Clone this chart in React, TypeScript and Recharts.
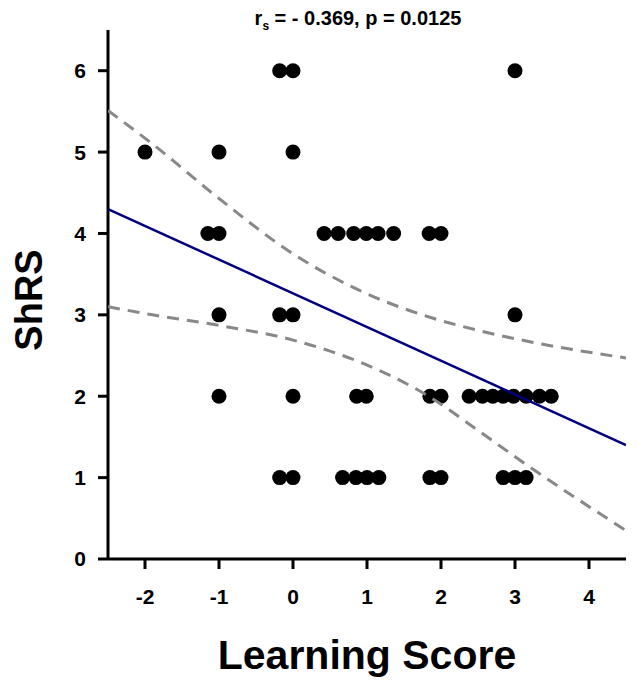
import { ScatterChart, Scatter, XAxis, YAxis } from "recharts";

const xTicks = [-2, -1, 0, 1, 2, 3, 4];
const yTicks = [0, 1, 2, 3, 4, 5, 6];

// one entry per subject: learning score and ShRS
const learningScore = [
  -0.18, 0, 3.0,
  -2, -1, 0,
  -1.15, -1.0, 0.42, 0.61, 0.82, 0.99, 1.15, 1.36, 1.84, 2.0,
  -1.0, -0.18, 0, 3.0,
  -1.0, 0, 0.86, 0.99, 1.85, 2.0, 2.38, 2.56, 2.7, 2.84, 2.98, 3.15, 3.33, 3.49,
  -0.18, 0, 0.67, 0.85, 1.0, 1.16, 1.85, 2.0, 2.84, 3.0, 3.15,
];
const shrsScore = [
  6, 6, 6,
  5, 5, 5,
  4, 4, 4, 4, 4, 4, 4, 4, 4, 4,
  3, 3, 3, 3,
  2, 2, 2, 2, 2, 2, 2, 2, 2, 2, 2, 2, 2, 2,
  1, 1, 1, 1, 1, 1, 1, 1, 1, 1, 1,
];

// linear fit and 95% confidence band
const fitX = [-2.5, 4.5];
const fitY = [4.3, 1.4];
const bandX = [-2.5, -1.9, -1, 0, 0.9, 1.85, 2.5, 3.2, 4.5];
const bandUpper = [5.51, 5.1, 4.43, 3.75, 3.3, 2.97, 2.81, 2.67, 2.47];
const bandLower = [3.1, 3.0, 2.87, 2.69, 2.42, 1.99, 1.58, 1.13, 0.35];

const points = learningScore.map((x, i) => ({ x, y: shrsScore[i] }));
const fit = fitX.map((x, i) => ({ x, y: fitY[i] }));
const upper = bandX.map((x, i) => ({ x, y: bandUpper[i] }));
const lower = bandX.map((x, i) => ({ x, y: bandLower[i] }));

const FONT = "'Liberation Sans', Arial, sans-serif";

const Dot = (props: any) => <circle cx={props.cx} cy={props.cy} r={7.5} fill="#000" />;
const NoDot = () => <g />;

const App = () => {
  const dash = { stroke: "#888888", strokeWidth: 3, strokeDasharray: "12 8" };
  return (
    <div style={{ position: "absolute", left: 0, top: 0, width: 639, height: 684, background: "#fff", fontFamily: FONT }}>
      <ScatterChart width={639} height={684} margin={{ top: 30, right: 13, bottom: 65, left: 48 }}>
        <XAxis
          type="number"
          dataKey="x"
          domain={[-2.5, 4.5]}
          ticks={xTicks}
          interval={0}
          allowDataOverflow
          height={60}
          tickSize={10}
          tickMargin={20}
          axisLine={{ stroke: "#000", strokeWidth: 3 }}
          tickLine={{ stroke: "#000", strokeWidth: 3 }}
          tick={{ fill: "#000", fontSize: 21, fontWeight: "bold", fontFamily: FONT }}
        />
        <YAxis
          type="number"
          dataKey="y"
          domain={[0, 6.5]}
          ticks={yTicks}
          interval={0}
          allowDataOverflow
          width={60}
          tickSize={10}
          tickMargin={12}
          axisLine={{ stroke: "#000", strokeWidth: 3 }}
          tickLine={{ stroke: "#000", strokeWidth: 3 }}
          tick={{ fill: "#000", fontSize: 21, fontWeight: "bold", fontFamily: FONT }}
        />
        <Scatter data={points} shape={Dot} isAnimationActive={false} />
        <Scatter data={upper} shape={NoDot} line={dash} lineJointType="monotoneX" isAnimationActive={false} />
        <Scatter data={lower} shape={NoDot} line={dash} lineJointType="monotoneX" isAnimationActive={false} />
        <Scatter data={fit} shape={NoDot} line={{ stroke: "#00007f", strokeWidth: 2.5 }} isAnimationActive={false} />
      </ScatterChart>
      <div
        style={{
          position: "absolute", left: 358, top: 7, transform: "translateX(-50%)",
          whiteSpace: "nowrap", fontSize: 20, fontWeight: "bold", color: "#000",
        }}
      >
        r<span style={{ fontSize: 12, verticalAlign: "sub" }}>s</span> = - 0.369, p = 0.0125
      </div>
      <div
        style={{
          position: "absolute", left: 29, top: 300, transform: "translate(-50%, -50%) rotate(-90deg)",
          whiteSpace: "nowrap", fontSize: 38, fontWeight: "bold", color: "#000",
        }}
      >
        ShRS
      </div>
      <div
        style={{
          position: "absolute", left: 367, top: 655, transform: "translate(-50%, -50%)",
          whiteSpace: "nowrap", fontSize: 41, fontWeight: "bold", color: "#000",
        }}
      >
        Learning Score
      </div>
    </div>
  );
};

export default App;
